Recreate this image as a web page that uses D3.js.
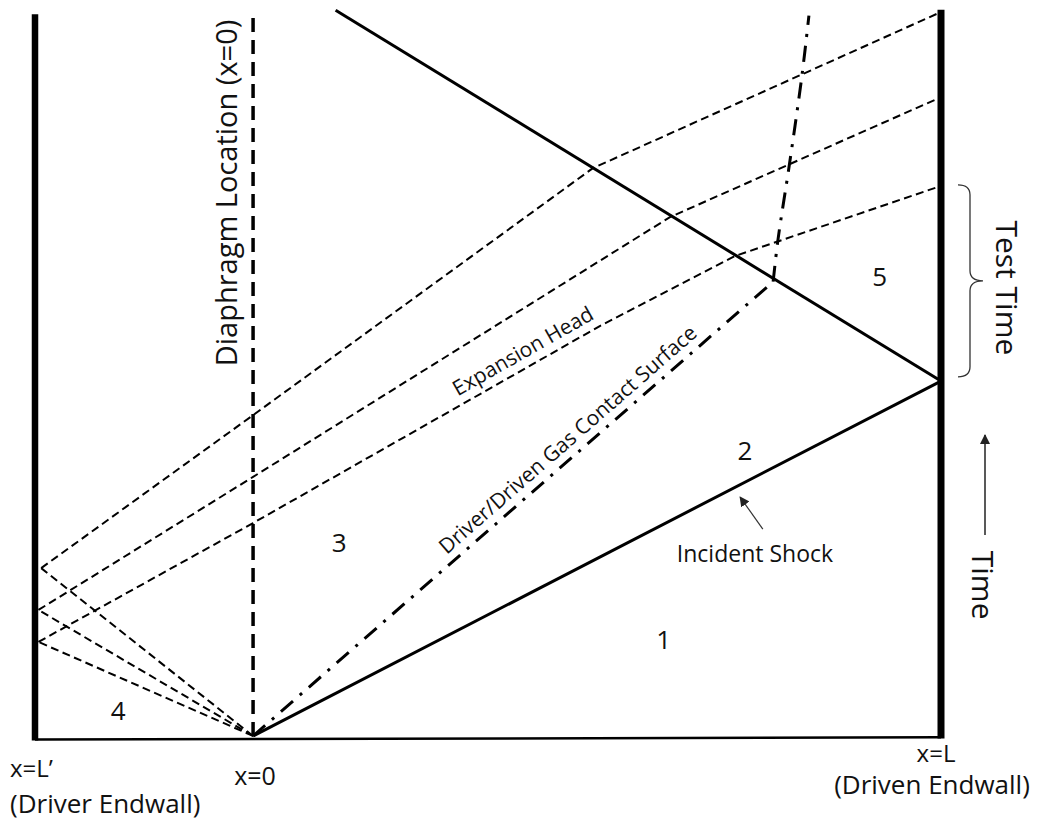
<!DOCTYPE html>
<html>
<head>
<meta charset="utf-8">
<script src="https://cdn.jsdelivr.net/npm/d3@7"></script>
<style>
  body { margin: 0; background: #fff; }
  svg { display: block; }
  text { font-family: "Open Sans", sans-serif; fill: #111; }
</style>
</head>
<body>
<svg id="chart" width="1043" height="821"></svg>
<script>
// position: diaphragm at 0, driven endwall L = 100 ; time: shock reflection at t = 100
const xDriver = -31.7;
const xDriven = 100;
const tTop = 204;

const incidentShock = [[0, 0], [100, 100]];
const reflectedShock = [[100, 100], [12, 204.5]];
const contactLower = [[0, 0], [75.6, 128]];
const contactUpper = [[75.6, 128], [76.3, 139.8], [78.0, 161.5], [79.8, 186.3], [80.8, 203]];
const fanEnds = [[-30.8, 47.3], [-31.2, 35.5], [-31.2, 26.5]];
const reflectedWaves = [
  [[-30.8, 47.3], [0, 90.4], [49.4, 160.0], [100, 204]],
  [[-31.2, 35.5], [0, 73.0], [60.6, 146.2], [100, 180.0]],
  [[-31.2, 26.5], [0, 60.0], [50.4, 115.5], [70.0, 135.2], [100, 155.0]]
];
const regionNames = ['1', '2', '3', '4', '5'];
const regionX = [59.7, 71.5, 12.5, -19.6, 91.1];
const regionT = [27.1, 80.3, 54.4, 7.0, 129.3];
const testTime = [101.2, 155.3];
const timeArrow = [56.6, 84.8];
const shockPointer = [[74.1, 58.3], [70.8, 67.3]];
const shockLabel = [61.6, 49.0];

const svg = d3.select('#chart');
const x = d3.scaleLinear().domain([xDriver, xDriven]).range([35, 941]);
const y = d3.scaleLinear().domain([-1, tTop]).range([739.5, 12]);
const line = d3.line().x(d => x(d[0])).y(d => y(d[1]));

svg.append('defs').append('marker')
  .attr('id', 'head')
  .attr('viewBox', '0 0 10 10')
  .attr('refX', 9).attr('refY', 5)
  .attr('markerWidth', 10).attr('markerHeight', 10)
  .attr('markerUnits', 'userSpaceOnUse')
  .attr('orient', 'auto')
  .append('path').attr('d', 'M0,0 L10,5 L0,10 Z').attr('fill', '#222');

// fan + reflected waves (thin dashed)
const thin = svg.append('g')
  .attr('fill', 'none').attr('stroke', '#000')
  .attr('stroke-width', 2).attr('stroke-dasharray', '8,4.5');
fanEnds.forEach(e => {
  thin.append('path').attr('d', line([[0, 0], e]));
});
reflectedWaves.forEach(w => {
  thin.append('path').attr('d', line(w));
});

// diaphragm
svg.append('path')
  .attr('d', line([[0, 0], [0, tTop]]))
  .attr('stroke', '#000').attr('stroke-width', 3.5)
  .attr('stroke-dasharray', '14,8').attr('fill', 'none');

// contact surface (dash-dot)
const dashDot = '16,9,3,9';
svg.append('path')
  .attr('d', line(contactLower))
  .attr('stroke', '#000').attr('stroke-width', 3)
  .attr('stroke-dasharray', dashDot).attr('fill', 'none');
svg.append('path')
  .attr('d', line.curve(d3.curveCatmullRom)(contactUpper))
  .attr('stroke', '#000').attr('stroke-width', 3)
  .attr('stroke-dasharray', dashDot).attr('fill', 'none');
line.curve(d3.curveLinear);

// shocks
[incidentShock, reflectedShock].forEach(s => {
  svg.append('path').attr('d', line(s))
    .attr('stroke', '#000').attr('stroke-width', 3).attr('fill', 'none');
});

// tube floor and endwalls
svg.append('path')
  .attr('d', line([[xDriver, -1], [xDriven, -0.4]]))
  .attr('stroke', '#000').attr('stroke-width', 2.5);
svg.append('path')
  .attr('d', line([[xDriver, -1.3], [xDriver, 203.4]]))
  .attr('stroke', '#000').attr('stroke-width', 6.5);
svg.append('path')
  .attr('d', line([[xDriven, -0.7], [xDriven, 204.6]]))
  .attr('stroke', '#000').attr('stroke-width', 7);

// region numbers
regionNames.forEach((n, i) => {
  svg.append('text')
    .attr('x', x(regionX[i])).attr('y', y(regionT[i]))
    .attr('dy', '0.36em').attr('text-anchor', 'middle')
    .attr('font-size', 26).text(n);
});

// labels along lines
function along(seg, xd, off, label, size) {
  const p0 = [x(seg[0][0]), y(seg[0][1])];
  const p1 = [x(seg[1][0]), y(seg[1][1])];
  const ang = Math.atan2(p1[1] - p0[1], p1[0] - p0[0]) * 180 / Math.PI;
  const f = (xd - seg[0][0]) / (seg[1][0] - seg[0][0]);
  const px = p0[0] + f * (p1[0] - p0[0]);
  const py = p0[1] + f * (p1[1] - p0[1]);
  svg.append('text')
    .attr('transform', `translate(${px},${py}) rotate(${ang})`)
    .attr('y', off).attr('font-size', size).text(label);
}
along([reflectedWaves[2][1], reflectedWaves[2][2]], 30.4, -9, 'Expansion Head', 21);
along(contactLower, 29.0, -9, 'Driver/Driven Gas Contact Surface', 21);

// diaphragm label
svg.append('text')
  .attr('transform', `translate(${x(0) - 16},${y(153)}) rotate(-90)`)
  .attr('text-anchor', 'middle').attr('font-size', 29)
  .text('Diaphragm Location (x=0)');

// incident shock label + pointer
svg.append('text')
  .attr('x', x(shockLabel[0])).attr('y', y(shockLabel[1]))
  .attr('font-size', 23).text('Incident Shock');
svg.append('path')
  .attr('d', line(shockPointer))
  .attr('stroke', '#333').attr('stroke-width', 1.2)
  .attr('marker-end', 'url(#head)');

// test time brace
const bx0 = x(xDriven) + 17, bx1 = bx0 + 12, bx2 = bx0 + 25, r = 10;
const yb0 = y(testTime[1]), yb1 = y(testTime[0]), ym = (yb0 + yb1) / 2;
svg.append('path')
  .attr('d', `M${bx0},${yb0} Q${bx1},${yb0} ${bx1},${yb0 + r} L${bx1},${ym - r} Q${bx1},${ym} ${bx2},${ym}
    Q${bx1},${ym} ${bx1},${ym + r} L${bx1},${yb1 - r} Q${bx1},${yb1} ${bx0},${yb1}`)
  .attr('fill', 'none').attr('stroke', '#333').attr('stroke-width', 1.3);
svg.append('text')
  .attr('transform', `translate(${x(xDriven) + 55},${ym + 7}) rotate(90)`)
  .attr('text-anchor', 'middle').attr('font-size', 30).text('Test Time');

// time arrow
svg.append('path')
  .attr('d', `M${x(xDriven) + 44},${y(timeArrow[0])} L${x(xDriven) + 44},${y(timeArrow[1])}`)
  .attr('stroke', '#222').attr('stroke-width', 1.5)
  .attr('marker-end', 'url(#head)');
svg.append('text')
  .attr('transform', `translate(${x(xDriven) + 31},${y(42.5)}) rotate(90)`)
  .attr('text-anchor', 'middle').attr('font-size', 30).text('Time');

// bottom labels
const base = y(-1);
svg.append('text').attr('x', x(xDriver) - 25).attr('y', base + 37)
  .attr('font-size', 24).text('x=L\u2019');
svg.append('text').attr('x', x(xDriver) - 25).attr('y', base + 73)
  .attr('font-size', 26).text('(Driver Endwall)');
svg.append('text').attr('x', x(0) + 2).attr('y', base + 45)
  .attr('text-anchor', 'middle').attr('font-size', 25).text('x=0');
svg.append('text').attr('x', x(xDriven) - 5).attr('y', base + 22)
  .attr('text-anchor', 'middle').attr('font-size', 24).text('x=L');
svg.append('text').attr('x', x(xDriven) - 9).attr('y', base + 54)
  .attr('text-anchor', 'middle').attr('font-size', 26).text('(Driven Endwall)');
</script>
</body>
</html>
